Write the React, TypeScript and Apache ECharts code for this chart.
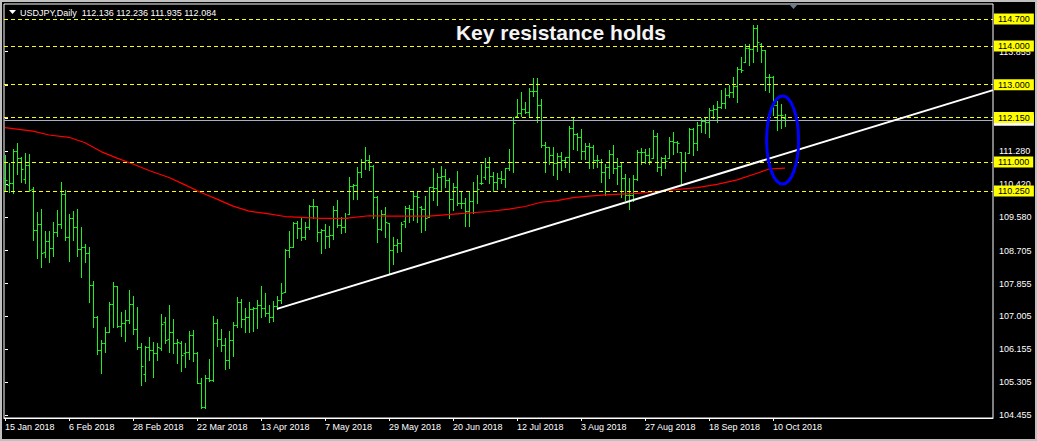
import React, { useEffect, useRef } from "react";
import * as echarts from "echarts";

const SYMBOL = "USDJPY";
const PERIOD = "Daily";
const TITLE = "Key resistance holds";

const xTickLabels = ["15 Jan 2018", "6 Feb 2018", "28 Feb 2018", "22 Mar 2018", "13 Apr 2018", "7 May 2018", "29 May 2018", "20 Jun 2018", "12 Jul 2018", "3 Aug 2018", "27 Aug 2018", "18 Sep 2018", "10 Oct 2018"];
const BARS_PER_TICK = 16;
const yTickValues = [104.455, 105.305, 106.155, 107.005, 107.855, 108.705, 109.58, 110.42, 111.28, 112.14, 112.995, 113.855];
const levelLines = [114.7, 114.0, 113.0, 112.15, 111.0, 110.25];

const opens = [110.58,110.41,110.45,111.29,111.10,110.55,110.92,110.29,109.23,109.39,108.66,108.96,108.77,109.18,109.39,110.17,109.05,109.54,109.31,108.75,108.79,108.65,107.82,107.00,106.14,106.33,106.59,107.33,107.78,106.76,106.84,106.90,107.33,106.67,106.22,105.51,106.22,106.14,106.07,106.18,106.87,106.41,106.59,106.33,106.31,106.07,106.09,106.53,106.07,105.27,104.67,105.40,105.36,106.84,106.41,106.27,105.88,106.40,106.78,107.37,106.94,107.00,107.19,107.22,107.30,107.23,107.10,107.00,107.28,107.43,107.65,108.72,108.81,109.41,109.29,109.07,109.31,109.86,109.85,109.18,109.24,109.09,109.11,109.76,109.37,109.33,109.66,110.38,110.40,110.73,111.01,111.04,110.91,110.09,109.26,109.66,109.41,108.72,108.85,108.90,109.48,109.80,109.78,110.12,109.84,109.78,109.59,110.36,110.32,110.62,110.64,110.54,110.04,110.35,109.95,109.95,109.74,110.00,110.26,110.46,110.60,110.88,110.64,110.49,110.58,110.55,110.84,111.01,112.20,112.26,112.36,112.29,112.85,112.85,112.48,111.44,111.38,111.18,110.97,111.16,111.05,111.12,111.87,111.72,111.66,111.29,111.42,111.38,111.04,111.00,110.75,110.88,111.20,110.84,110.91,110.58,110.15,110.15,110.56,111.27,111.27,111.18,111.10,111.67,110.88,111.10,111.10,111.54,111.51,111.25,111.01,111.23,111.86,111.48,111.96,112.06,112.04,112.35,112.37,112.43,112.52,112.73,112.80,112.98,113.42,113.60,113.94,113.92,114.48,114.05,113.90,113.21,113.21,112.48,112.22,112.136];
const highs = [111.18,110.98,111.33,111.48,111.12,111.23,111.20,110.35,109.70,109.79,109.22,109.22,109.46,109.76,110.49,110.28,109.66,109.73,109.79,109.33,108.88,108.79,107.91,107.02,106.40,106.74,107.37,107.89,107.78,107.13,107.17,107.69,107.54,107.26,106.31,106.24,106.48,106.34,106.31,107.07,106.98,107.30,106.94,106.41,106.38,106.33,106.63,106.66,106.09,105.40,105.49,105.90,107.02,106.94,106.68,106.44,106.64,106.85,107.52,107.46,107.23,107.37,107.26,107.43,107.80,107.60,107.29,107.41,107.54,107.86,108.75,109.22,109.46,109.47,109.54,109.46,109.89,110.04,109.86,109.26,109.39,109.35,109.85,110.02,109.59,109.67,110.62,110.42,110.88,111.07,111.40,111.18,110.92,110.12,109.76,109.83,109.41,109.07,109.00,109.46,109.85,109.89,110.26,110.23,109.85,110.12,110.36,110.84,110.71,110.90,110.81,110.58,110.45,110.77,110.23,110.06,110.26,110.49,110.66,110.94,111.10,111.12,110.73,110.71,110.78,110.85,111.35,112.17,112.62,112.82,112.55,112.91,113.17,113.17,112.62,111.53,111.40,111.38,111.24,111.27,111.14,111.92,112.17,111.74,111.85,111.50,111.48,111.44,111.18,111.08,110.94,111.31,111.44,111.10,111.01,110.68,110.58,110.66,111.31,111.37,111.33,111.37,111.83,111.74,111.14,111.18,111.66,111.77,111.54,111.27,111.27,111.89,111.87,112.03,112.15,112.13,112.39,112.48,112.58,112.86,112.91,112.99,113.21,113.47,113.73,114.05,114.05,114.55,114.55,114.07,113.90,113.27,113.23,112.58,112.49,112.236];
const lows = [110.28,110.23,110.19,110.68,110.49,110.47,110.25,108.97,108.51,108.28,108.55,108.41,108.57,109.09,109.29,108.98,108.45,108.98,108.57,108.03,108.41,107.39,106.72,106.03,105.55,106.09,106.59,106.74,106.74,106.50,106.37,106.83,106.55,106.15,105.23,105.34,105.88,105.45,105.88,106.14,106.31,106.09,106.07,105.79,105.60,105.69,105.90,105.86,105.28,104.63,104.63,105.34,105.34,106.25,106.12,105.65,105.68,105.99,106.72,106.74,106.61,106.61,106.64,106.70,107.00,107.02,106.87,106.89,107.20,107.34,107.65,108.53,108.81,109.03,108.97,109.01,109.26,109.54,108.96,108.64,108.78,108.81,109.00,109.31,109.16,109.20,109.66,110.04,110.04,110.62,110.81,110.79,109.54,108.94,109.24,109.07,108.12,108.36,108.68,108.70,109.33,109.46,109.50,109.46,109.20,109.24,109.59,110.02,109.89,110.28,110.36,109.54,109.76,109.89,109.80,109.35,109.35,109.67,109.95,110.43,110.55,110.45,110.26,110.29,110.45,110.35,110.79,110.75,112.17,112.19,112.28,112.17,112.71,112.04,111.40,110.75,110.95,110.66,110.56,110.79,110.88,110.73,111.35,111.31,111.07,111.07,110.84,110.84,110.88,110.49,110.15,110.58,110.71,110.42,110.10,110.02,109.79,109.98,110.54,110.94,110.97,110.94,111.10,110.77,110.66,110.84,111.10,111.20,111.27,110.42,110.77,111.23,111.18,111.31,111.79,111.74,111.66,112.13,112.03,112.39,112.39,112.69,112.69,112.55,113.34,113.60,113.51,113.60,113.86,113.60,112.86,112.82,112.22,111.83,111.87,111.935];
const closes = [110.53,110.45,111.29,111.10,110.81,110.92,110.28,109.23,109.39,108.64,108.96,108.77,109.18,109.39,110.17,109.05,109.54,109.31,108.75,108.79,108.65,107.82,107.00,106.14,106.33,106.59,107.33,107.78,106.76,106.84,106.90,107.33,106.67,106.22,105.72,106.22,106.14,106.07,106.22,106.81,106.40,106.59,106.33,106.35,106.01,106.09,106.53,106.07,105.28,104.67,105.40,105.36,106.84,106.41,106.27,105.88,106.40,106.78,107.37,106.94,107.00,107.19,107.22,107.30,107.23,107.10,107.00,107.28,107.43,107.60,108.72,108.79,109.41,109.29,109.07,109.31,109.86,109.85,109.18,109.24,109.09,109.11,109.76,109.37,109.33,109.56,110.38,110.40,110.73,111.01,111.04,110.91,110.09,109.26,109.66,109.46,108.72,108.85,108.90,109.40,109.80,109.78,110.12,110.10,109.78,109.54,110.36,110.32,110.62,110.64,110.54,110.04,110.35,109.95,109.95,109.74,110.00,110.26,110.29,110.45,110.88,110.64,110.49,110.58,110.55,110.84,111.01,112.00,112.26,112.36,112.29,112.85,112.85,112.48,111.44,111.38,111.18,110.97,111.16,111.05,111.12,111.87,111.72,111.66,111.29,111.42,111.38,111.04,111.05,110.75,110.88,111.20,110.84,110.91,110.58,110.15,110.15,110.56,111.27,111.27,111.18,111.03,111.67,110.88,111.10,111.03,111.54,111.51,111.48,111.01,111.01,111.86,111.48,111.96,112.06,112.04,112.35,112.37,112.43,112.52,112.73,112.80,112.98,113.42,113.38,113.94,113.92,114.48,114.11,113.90,113.21,113.21,112.48,112.22,112.22,112.084];

const maBars = [0,7,11,16,20,24,28,32,36,41,45,49,53,57,61,66,70,74,79,85,91,96,106,113,121,126,130,134,138,142,146,150,158,164,173,178,183,188,191,195];
const maValues = [111.89,111.80,111.70,111.64,111.50,111.27,111.10,110.95,110.78,110.60,110.41,110.21,110.04,109.86,109.73,109.66,109.59,109.57,109.54,109.54,109.61,109.60,109.60,109.66,109.72,109.78,109.85,109.96,110.00,110.08,110.12,110.15,110.19,110.25,110.34,110.42,110.54,110.71,110.82,110.84];

const trendStart = [68, 107.2];
const trendEnd = [247, 112.86];
const ellipseCenter = [194.4, 111.57];

const X_MIN = -0.25;
const X_MAX = 247;
const Y_MIN = 104.377;
const Y_MAX = 115.089;

const GREEN = "#1ff01f";
const FONT = "Liberation Sans";

export default function App() {
  const ref = useRef<HTMLDivElement>(null);
  useEffect(() => {
    const chart = echarts.init(ref.current!, null, { renderer: "svg" });
    const ohlc = opens.map((o, i) => [i, o, highs[i], lows[i], closes[i]]);
    const last = ohlc.length - 1;
    const lastClose = closes[last];
    const xTickIdx = xTickLabels.map((_, i) => i * BARS_PER_TICK);

    const option: any = {
      animation: false,
      backgroundColor: "#000",
      textStyle: { fontFamily: FONT },
      grid: { left: 4, top: 4, width: 989, height: 414, show: true, borderColor: "#ffffff", borderWidth: 1, backgroundColor: "transparent" },
      xAxis: {
        type: "value", min: X_MIN, max: X_MAX, position: "bottom",
        axisLine: { show: true, lineStyle: { color: "#ffffff", width: 1 } },
        axisTick: { show: true, customValues: xTickIdx, length: 3, lineStyle: { color: "#ffffff" } },
        axisLabel: {
          customValues: xTickIdx, color: "#ffffff", fontSize: 9, fontFamily: FONT, align: "left", margin: 4,
          formatter: (v: number) => xTickLabels[Math.round(v / BARS_PER_TICK)] ?? "",
        },
        splitLine: { show: false },
      },
      yAxis: {
        type: "value", min: Y_MIN, max: Y_MAX, position: "right", scale: true,
        axisLine: { show: false },
        axisTick: { show: true, customValues: yTickValues, length: 3, lineStyle: { color: "#ffffff" } },
        axisLabel: {
          customValues: yTickValues, color: "#ffffff", fontSize: 9, fontFamily: FONT, margin: 6, align: "left",
          formatter: (v: number) => Number(v).toFixed(3),
        },
        splitLine: { show: false },
      },
      series: [
        {
          type: "line", data: [], z: 2, silent: true,
          markLine: {
            symbol: "none", silent: true, animation: false,
            data: [{ yAxis: lastClose }],
            lineStyle: { color: "#a8b0c0", width: 1, type: "solid" },
            label: {
              position: "end", distance: 1, formatter: () => lastClose.toFixed(3),
              backgroundColor: "#ffffff", color: "#000000", fontSize: 9, fontFamily: FONT, lineHeight: 10, padding: [1, 4, 0, 4],
            },
          },
        },
        {
          type: "custom", data: ohlc, z: 3, silent: true, clip: true,
          encode: { x: 0, y: [1, 2, 3, 4] },
          renderItem: (params: any, api: any) => {
            const k = api.value(0);
            const o = api.coord([k, api.value(1)]);
            const h = api.coord([k, api.value(2)]);
            const l = api.coord([k, api.value(3)]);
            const c = api.coord([k, api.value(4)]);
            const x = Math.round(h[0]) + 0.5;
            const yo = Math.round(o[1]) + 0.5;
            const yc = Math.round(c[1]) + 0.5;
            const style = { stroke: GREEN, lineWidth: 1 };
            return {
              type: "group",
              children: [
                { type: "line", shape: { x1: x, y1: Math.round(h[1]), x2: x, y2: Math.round(l[1]) + 1 }, style },
                { type: "line", shape: { x1: x - 2, y1: yo, x2: x, y2: yo }, style },
                { type: "line", shape: { x1: x, y1: yc, x2: x + 2, y2: yc }, style },
              ],
            };
          },
        },
        {
          type: "line", z: 4, silent: true, symbol: "none", showSymbol: false,
          data: maBars.map((b, i) => [b, maValues[i]]),
          lineStyle: { color: "#ff0000", width: 1.2 },
        },
        {
          type: "line", data: [], z: 5, silent: true,
          markLine: {
            symbol: "none", silent: true, animation: false,
            data: levelLines.map((v) => ({ yAxis: v })),
            lineStyle: { color: "#ffff00", width: 1, type: [4, 3] },
            label: {
              position: "end", distance: 1, formatter: (p: any) => Number(p.value).toFixed(3),
              backgroundColor: "#ffff00", color: "#000000", fontSize: 9, fontFamily: FONT, lineHeight: 10, padding: [1, 4, 0, 4],
            },
          },
        },
        {
          type: "line", z: 6, silent: true, symbol: "none", showSymbol: false,
          data: [trendStart, trendEnd],
          lineStyle: { color: "#ffffff", width: 2 },
        },
      ],
    };
    chart.setOption(option);

    const ec = chart.convertToPixel({ gridIndex: 0 }, ellipseCenter) as number[];
    const header = `${SYMBOL},${PERIOD}  ${opens[last].toFixed(3)} ${highs[last].toFixed(3)} ${lows[last].toFixed(3)} ${closes[last].toFixed(3)}`;
    chart.setOption({
      graphic: [
        { type: "rect", z: 100, shape: { x: 1, y: 1, width: 1035, height: 439 }, style: { fill: "none", stroke: "#c0c0c0", lineWidth: 2 } },
        { type: "polygon", z: 100, shape: { points: [[9, 10], [16, 10], [12.5, 14]] }, style: { fill: "#ffffff" } },
        { type: "text", z: 100, x: 20, y: 13, style: { text: header, fill: "#ffffff", fontSize: 9, fontFamily: FONT, verticalAlign: "middle" } },
        { type: "text", z: 100, x: 561, y: 32, style: { text: TITLE, fill: "#f4f4f4", fontSize: 21, fontWeight: "bold", fontFamily: FONT, align: "center", verticalAlign: "middle" } },
        { type: "polygon", z: 100, shape: { points: [[789, 4], [798, 4], [793.5, 9]] }, style: { fill: "#6a7b8c" } },
        { type: "ellipse", z: 100, shape: { cx: ec[0], cy: ec[1], rx: 16, ry: 44 }, style: { fill: "none", stroke: "#0000ff", lineWidth: 3 } },
      ],
    });
    return () => chart.dispose();
  }, []);
  return <div ref={ref} style={{ position: "fixed", left: 0, top: 0, width: 1037, height: 441, background: "#000" }} />;
}
